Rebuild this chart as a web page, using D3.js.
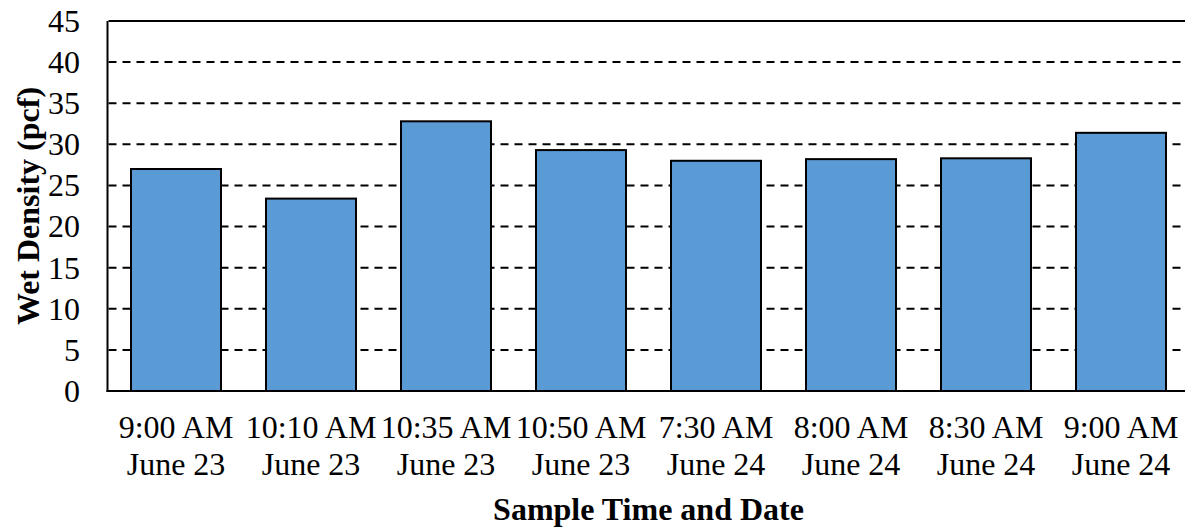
<!DOCTYPE html>
<html>
<head>
<meta charset="utf-8">
<script src="https://cdn.jsdelivr.net/npm/d3@7"></script>
<style>
  html, body { margin: 0; padding: 0; background: #fff; }
  svg { display: block; }
</style>
</head>
<body>
<div id="chart"></div>
<script>
const timeLabels = ["9:00 AM", "10:10 AM", "10:35 AM", "10:50 AM", "7:30 AM", "8:00 AM", "8:30 AM", "9:00 AM"];
const dateLabels = ["June 23", "June 23", "June 23", "June 23", "June 24", "June 24", "June 24", "June 24"];
const wetDensity = [27.0, 23.4, 32.8, 29.3, 28.0, 28.2, 28.3, 31.4];
const yTicks = [0, 5, 10, 15, 20, 25, 30, 35, 40, 45];
const yTitle = "Wet Density (pcf)";
const xTitle = "Sample Time and Date";

const W = 1185, H = 529;
const mLeft = 108.5, mRight = 1188.5, mTop = 21, mBottom = 391;
const font = "'Liberation Serif', 'Times New Roman', serif";

const svg = d3.select("#chart").append("svg")
  .attr("width", W).attr("height", H);

const idx = d3.range(wetDensity.length);
const x = d3.scaleBand().domain(idx).range([mLeft, mRight])
  .paddingInner(1/3).paddingOuter(1/6);
const y = d3.scaleLinear().domain([0, 45]).range([mBottom, mTop]);

// gridlines
svg.append("g").selectAll("line").data(yTicks.filter(t => t > 0)).join("line")
  .attr("x1", mLeft).attr("x2", W)
  .attr("y1", d => y(d)).attr("y2", d => y(d))
  .attr("stroke", "#000").attr("stroke-width", 2)
  .attr("stroke-dasharray", d => d === 45 ? null : "8,6");

// bars
svg.append("g").selectAll("rect").data(idx).join("rect")
  .attr("x", i => x(i)).attr("width", x.bandwidth())
  .attr("y", i => y(wetDensity[i])).attr("height", i => y(0) - y(wetDensity[i]))
  .attr("fill", "#5B9BD5").attr("stroke", "#000").attr("stroke-width", 2);

// axes lines
svg.append("line").attr("x1", mLeft - 1).attr("x2", mLeft - 1)
  .attr("y1", mTop).attr("y2", mBottom + 1)
  .attr("stroke", "#000").attr("stroke-width", 2);
svg.append("line").attr("x1", mLeft - 2).attr("x2", W)
  .attr("y1", y(0)).attr("y2", y(0))
  .attr("stroke", "#000").attr("stroke-width", 2);

// y tick labels
svg.append("g").selectAll("text").data(yTicks).join("text")
  .attr("x", 80).attr("y", d => y(d)).attr("dy", "0.34em")
  .attr("text-anchor", "end")
  .attr("font-family", font).attr("font-size", 32)
  .text(d => d);

// x tick labels
const xl = svg.append("g").selectAll("text").data(idx).join("text")
  .attr("text-anchor", "middle")
  .attr("font-family", font).attr("font-size", 32);
xl.append("tspan").attr("x", i => x(i) + x.bandwidth() / 2).attr("y", 438).text(i => timeLabels[i]);
xl.append("tspan").attr("x", i => x(i) + x.bandwidth() / 2).attr("y", 475).text(i => dateLabels[i]);

// titles
svg.append("text")
  .attr("x", (mLeft + mRight) / 2).attr("y", 520)
  .attr("text-anchor", "middle")
  .attr("font-family", font).attr("font-size", 32).attr("font-weight", "bold")
  .text(xTitle);

svg.append("text")
  .attr("transform", `translate(39, ${(mTop + mBottom) / 2}) rotate(-90)`)
  .attr("text-anchor", "middle")
  .attr("font-family", font).attr("font-size", 32).attr("font-weight", "bold")
  .text(yTitle);
</script>
</body>
</html>
